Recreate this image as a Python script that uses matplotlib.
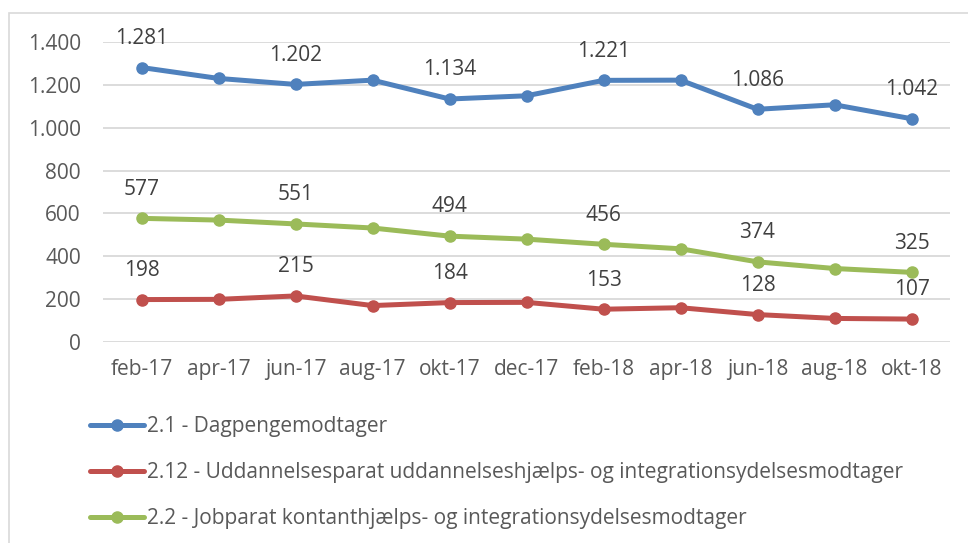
import matplotlib
matplotlib.use("Agg")
from matplotlib import pyplot as plt
from matplotlib.ticker import FuncFormatter
from matplotlib.patches import Rectangle

plt.rcParams['font.family'] = ['Open Sans', 'DejaVu Sans']

# data
months = ['feb-17', 'apr-17', 'jun-17', 'aug-17', 'okt-17', 'dec-17',
          'feb-18', 'apr-18', 'jun-18', 'aug-18', 'okt-18']
dagpenge = [1281, 1230, 1202, 1222, 1134, 1149, 1221, 1222, 1086, 1107, 1042]
uddannelse = [198, 199, 215, 170, 184, 185, 153, 160, 128, 110, 107]
jobparat = [577, 569, 551, 532, 494, 480, 456, 435, 374, 343, 325]

names = ['2.1 - Dagpengemodtager',
         '2.12 - Uddannelsesparat uddannelseshjælps- og integrationsydelsesmodtager',
         '2.2 - Jobparat kontanthjælps- og integrationsydelsesmodtager']
colors = ['#4f81bd', '#c0504d', '#9bbb59']


def dk(v, pos=None):
    return f'{int(v):,}'.replace(',', '.')


fig = plt.figure(figsize=(9.68, 5.43), dpi=100)
# thin frame of the chart area
fig.patches.append(Rectangle((8.5 / 968, -0.01), 1.1, 1 - 13.5 / 543 + 0.01,
                             transform=fig.transFigure, fill=False,
                             edgecolor='#d9d9d9', linewidth=1.2))

ax = fig.add_axes([103 / 968, 1 - 342 / 543, (950 - 103) / 968, 300 / 543])
x = list(range(len(months)))

for series, name, col in zip([dagpenge, uddannelse, jobparat], names, colors):
    ax.plot(x, series, color=col, lw=3.6, marker='o', markersize=8,
            solid_capstyle='round', label=name, zorder=3)
    for i in range(0, len(series), 2):
        ax.annotate(dk(series[i]), (x[i], series[i]), xytext=(0, 21),
                    textcoords='offset points', ha='center', va='center',
                    fontsize=15, color='#404040')

ax.set_xlim(-0.5, len(months) - 0.5)
ax.set_ylim(0, 1400)
ax.set_yticks(range(0, 1401, 200))
ax.yaxis.set_major_formatter(FuncFormatter(dk))
ax.set_xticks(x)
ax.set_xticklabels(months)
ax.grid(axis='y', color='#d9d9d9', lw=1.3)
ax.set_axisbelow(True)
for s in ax.spines.values():
    s.set_visible(False)
ax.tick_params(length=0, labelsize=15, colors='#595959')
ax.tick_params(axis='x', pad=12)
ax.tick_params(axis='y', pad=16)

handles, labels = ax.get_legend_handles_labels()
leg = fig.legend(handles, labels, loc='upper left',
                 bbox_to_anchor=(90 / 968, 1 - 416 / 543),
                 frameon=False, fontsize=15, handlelength=2.6,
                 handletextpad=0.12, labelspacing=1.2, borderpad=0,
                 borderaxespad=0)
for t in leg.get_texts():
    t.set_color('#595959')

fig.savefig('out.png', dpi=100)
